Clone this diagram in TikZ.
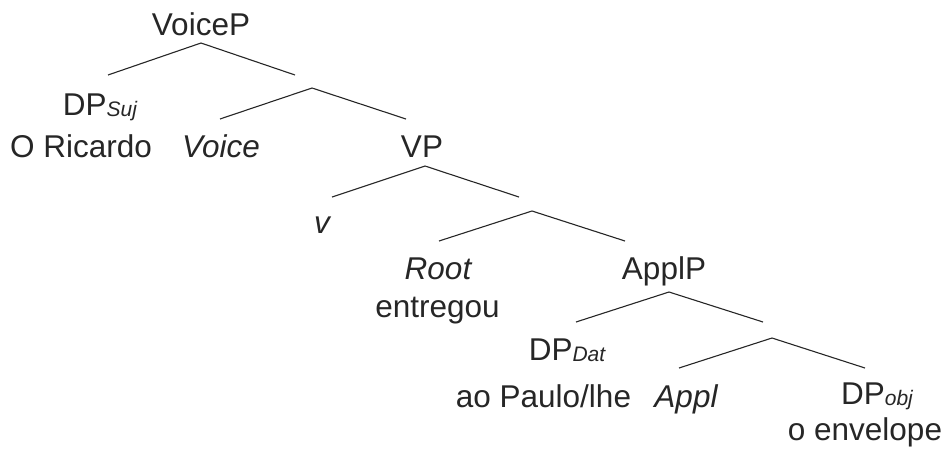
\documentclass[tikz,border=0pt]{standalone}
\usepackage{fontspec}
\setmainfont{Liberation Sans}
\definecolor{ink}{RGB}{38,38,38}
\newcommand{\subsc}[1]{\raisebox{-1.5pt}{\fontsize{21}{22}\selectfont\itshape #1}}
\begin{document}
\begin{tikzpicture}[x=1pt,y=-1pt,
  lbl/.style={anchor=base, inner sep=0pt, text=ink, font=\fontsize{31.5}{36}\selectfont},
  branch/.style={draw=ink, line width=1.1pt}]
\useasboundingbox (0,0) rectangle (941,448);
% labels
\node[lbl] (voicep) at (201,35) {VoiceP};
\node[lbl] (dpsuj) at (100,115) {DP\subsc{Suj}};
\node[lbl] (ricardo) at (81,157) {O Ricardo};
\node[lbl] (voice) at (221,157) {\itshape Voice};
\node[lbl] (vp) at (422,157) {VP};
\node[lbl] (vlit) at (322,233) {\itshape v};
\node[lbl] (root) at (438,279) {\itshape Root};
\node[lbl] (entregou) at (437.5,317) {entregou};
\node[lbl] (applp) at (664,279) {ApplP};
\node[lbl] (dpdat) at (567,360) {DP\subsc{Dat}};
\node[lbl] (paulo) at (543.5,407) {ao Paulo/lhe};
\node[lbl] (appl) at (686,407) {\itshape Appl};
\node[lbl] (dpobj) at (877,404) {DP\subsc{obj}};
\node[lbl] (envelope) at (865,440) {o envelope};
% branch points
\coordinate (a1) at (201,43);  \coordinate (l1) at (108,75);  \coordinate (r1) at (295,75);
\coordinate (a2) at (312,88);  \coordinate (l2) at (220,119); \coordinate (r2) at (406,119);
\coordinate (a3) at (425,166); \coordinate (l3) at (332,197); \coordinate (r3) at (519,197);
\coordinate (a4) at (532,211); \coordinate (l4) at (439,241); \coordinate (r4) at (625,241);
\coordinate (a5) at (669,292); \coordinate (l5) at (576,322); \coordinate (r5) at (763,322);
\coordinate (a6) at (772,338); \coordinate (l6) at (679,368); \coordinate (r6) at (865,368);
\foreach \i in {1,...,6}{
  \draw[branch] (l\i) -- (a\i) -- (r\i);
}
\end{tikzpicture}
\end{document}
